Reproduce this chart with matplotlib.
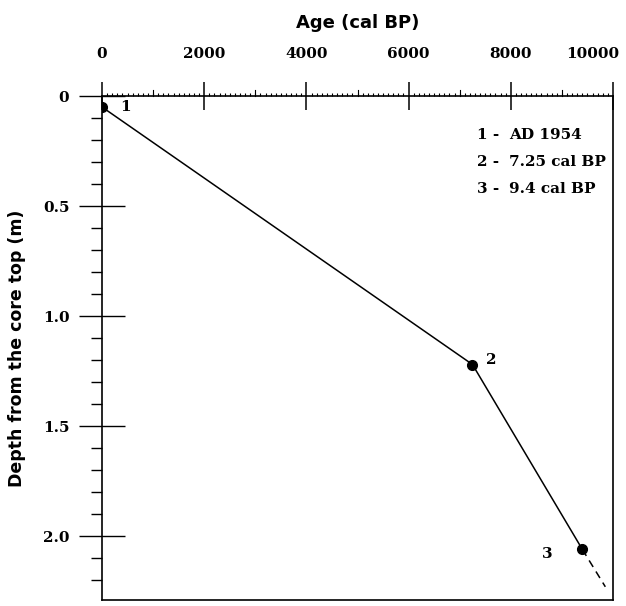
import matplotlib
matplotlib.use("Agg")
import matplotlib.pyplot as plt
import numpy as np
import matplotlib.transforms as mtransforms
from matplotlib.ticker import MultipleLocator

# dated levels
age = [0, 7250, 9400]
depth = [0.05, 1.22, 2.06]
point_labels = ["1", "2", "3"]
# dashed extrapolation below the last date
ext_age = [9400, 9850]
ext_depth = [2.06, 2.23]
legend_lines = [("1 -", "AD 1954"), ("2 -", "7.25 cal BP"), ("3 -", "9.4 cal BP")]

xticks = [0, 2000, 4000, 6000, 8000, 10000]
yticks = [0, 0.5, 1.0, 1.5, 2.0]
yticklabels = ["0", "0.5", "1.0", "1.5", "2.0"]

serif = "DejaVu Serif"
sans = "DejaVu Sans"

fig = plt.figure(figsize=(6.26, 6.06), dpi=100)
ax = fig.add_axes([102/626, 1-600/606, (613-102)/626, (600-96)/606])

ax.plot(age, depth, color="black", lw=1.1, zorder=3)
ax.plot(age, depth, "o", color="black", ms=7, zorder=4)
ax.plot(ext_age, ext_depth, color="black", lw=1.1, dashes=(5, 3.5), zorder=3)

ax.set_xlim(0, 10000)
ax.set_ylim(2.29, 0)

# x axis on top
ax.xaxis.tick_top()
ax.xaxis.set_label_position("top")
ax.set_xticks(xticks)
ax.set_xticklabels([str(v) for v in xticks], family=serif, fontweight="bold", fontsize=11)
ax.xaxis.set_minor_locator(MultipleLocator(100))
ax.tick_params(axis="x", which="major", direction="inout", length=20, width=1.1, pad=15)
ax.tick_params(axis="x", which="minor", direction="out", length=2.5, width=0.8)
# slightly longer ticks at the odd thousands
for v in [1000, 3000, 5000, 7000, 9000]:
    ax.plot([v, v], [0, -0.025], color="black", lw=0.8, clip_on=False)
ax.set_xlabel("Age (cal BP)", family=sans, fontweight="bold", fontsize=13, labelpad=14)

# last label sits a bit to the left so it stays on the page
lastlab = ax.get_xticklabels()[-1]
lastlab.set_transform(lastlab.get_transform() +
                      mtransforms.ScaledTranslation(-0.2, 0, fig.dpi_scale_trans))

ax.set_yticks(yticks)
ax.set_yticklabels(yticklabels, family=serif, fontweight="bold", fontsize=11)
ax.yaxis.set_minor_locator(MultipleLocator(0.1))
ax.tick_params(axis="y", which="major", direction="inout", length=33, width=1.0, pad=7)
ax.tick_params(axis="y", which="minor", direction="out", length=8, width=1.0)
ax.set_ylabel("Depth from the core top (m)", family=sans, fontweight="bold", fontsize=12.5, labelpad=12)

for s in ax.spines.values():
    s.set_linewidth(1.2)

offsets = [(13, 0), (10, 3), (-29, -3)]
for a, d, lab, off in zip(age, depth, point_labels, offsets):
    ax.annotate(lab, (a, d), xytext=off, textcoords="offset points",
                family=serif, fontweight="bold", fontsize=11, ha="left", va="center")

for i, (num, txt) in enumerate(legend_lines):
    yy = 1 - (39 + 27*i)/504
    ax.text((477-102)/511, yy, num, transform=ax.transAxes, family=serif,
            fontsize=11, fontweight="bold", va="center", ha="left")
    ax.text((509-102)/511, yy, txt, transform=ax.transAxes, family=serif,
            fontsize=11, fontweight="bold", va="center", ha="left")

fig.savefig("out.png", dpi=100)
